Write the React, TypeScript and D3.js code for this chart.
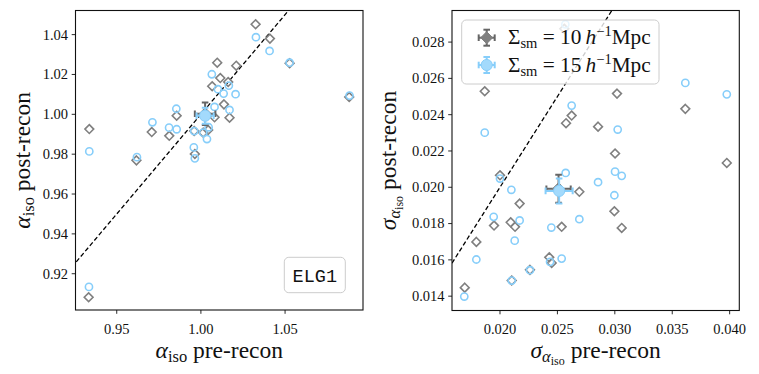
import React from 'react';
import * as d3 from 'd3';

// alpha_iso, Sigma_sm = 10 (pre, post)
const alphaPre10 = [1.0325, 1.041, 1.0097, 1.021, 1.0115, 1.0162, 1.0067, 1.0527, 1.0881, 1.0137, 1.017, 1.0081, 1.0043, 1.0014, 0.9856, 0.9708, 0.9812, 0.9964, 0.9337, 0.9617, 0.9333, 0.996];
const alphaPost10 = [1.0452, 1.038, 1.0259, 1.0244, 1.0182, 1.0162, 1.0141, 1.0256, 1.0087, 1.005, 0.9983, 0.9985, 0.9921, 0.9908, 0.9993, 0.9911, 0.9892, 0.9801, 0.9926, 0.9769, 0.9082, 0.9916];
// alpha_iso, Sigma_sm = 15
const alphaPre15 = [1.0327, 1.0408, 1.0065, 1.0101, 1.0135, 1.0166, 1.0206, 1.0527, 1.0883, 1.0081, 1.017, 0.9854, 0.9712, 0.9811, 0.9856, 0.996, 1.0014, 1.0046, 1.0036, 0.9958, 0.9964, 0.9337, 0.962, 0.9335];
const alphaPost15 = [1.0387, 1.0318, 1.0201, 1.0126, 1.0104, 1.0144, 1.0101, 1.0259, 1.0094, 1.0037, 1.0022, 1.0028, 0.996, 0.9933, 0.9925, 0.9916, 0.9908, 0.9935, 0.9876, 0.9834, 0.9779, 0.9814, 0.9785, 0.9134];
// mean with errors: [x, y, xerr, yerr]
const alphaMean10 = [1.0025, 1.0003, 0.0061, 0.0056];
const alphaMean15 = [1.0025, 0.9993, 0.0051, 0.004];

// sigma_alpha_iso
const sigmaPre10 = [0.01867, 0.03019, 0.03614, 0.02624, 0.02575, 0.02854, 0.03975, 0.03002, 0.02, 0.02691, 0.02171, 0.01948, 0.02093, 0.02131, 0.02537, 0.02996, 0.0306, 0.01794, 0.02429, 0.0245, 0.02261, 0.02102, 0.01693, 0.0256];
const sigmaPost10 = [0.02529, 0.02516, 0.02432, 0.02395, 0.02353, 0.02334, 0.02134, 0.02186, 0.02066, 0.01975, 0.0191, 0.01789, 0.01807, 0.01782, 0.01782, 0.01868, 0.01776, 0.01699, 0.01614, 0.01583, 0.01545, 0.01486, 0.01447, 0.02873];
const sigmaPre15 = [0.02569, 0.03614, 0.03975, 0.02624, 0.01867, 0.03025, 0.02572, 0.03002, 0.0306, 0.02854, 0.02, 0.02099, 0.02996, 0.01945, 0.02171, 0.02691, 0.02447, 0.02128, 0.01794, 0.02537, 0.02436, 0.02261, 0.02102, 0.01689];
const sigmaPost15 = [0.02898, 0.02575, 0.02512, 0.0245, 0.02301, 0.02318, 0.02079, 0.02086, 0.02063, 0.02028, 0.02048, 0.01986, 0.01956, 0.01837, 0.01817, 0.01824, 0.01778, 0.01706, 0.01602, 0.01607, 0.01589, 0.01543, 0.01486, 0.01398];
const sigmaMean10 = [0.0251, 0.01992, 0.00106, 0.00077];
const sigmaMean15 = [0.02515, 0.0198, 0.00118, 0.00069];

const alphaXTicks = [0.95, 1.0, 1.05];
const alphaYTicks = [0.92, 0.94, 0.96, 0.98, 1.0, 1.02, 1.04];
const sigmaXTicks = [0.02, 0.025, 0.03, 0.035, 0.04];
const sigmaYTicks = [0.014, 0.016, 0.018, 0.02, 0.022, 0.024, 0.026, 0.028];

const legendLabels = ['10', '15'];

const GRAY = '#808080';
const GRAY_BAR = '#666666';
const BLUE = '#87cefa';
const SERIF = { fontFamily: "'Liberation Serif'" };
const MONO = { fontFamily: "'Liberation Mono'" };

const diamond = (r) => `M0,${-r}L${r},0L0,${r}L${-r},0Z`;

const ErrMarker = ({ cx, cy, ex, ey, kind }) => {
  const bar = kind === 'gray' ? GRAY_BAR : BLUE;
  const cap = 3.3;
  return (
    <g stroke={bar} strokeWidth={2}>
      <line x1={cx - ex} x2={cx + ex} y1={cy} y2={cy} />
      <line x1={cx} x2={cx} y1={cy - ey} y2={cy + ey} />
      <line x1={cx - ex} x2={cx - ex} y1={cy - cap} y2={cy + cap} />
      <line x1={cx + ex} x2={cx + ex} y1={cy - cap} y2={cy + cap} />
      <line x1={cx - cap} x2={cx + cap} y1={cy - ey} y2={cy - ey} />
      <line x1={cx - cap} x2={cx + cap} y1={cy + ey} y2={cy + ey} />
      {kind === 'gray'
        ? <path d={diamond(6)} transform={`translate(${cx},${cy})`} fill={GRAY} stroke={GRAY} strokeWidth={1} />
        : <circle cx={cx} cy={cy} r={5.6} fill="#a3dafc" stroke={BLUE} strokeWidth={1} />}
    </g>
  );
};

const Panel = ({ id, box, xDomain, yDomain, xTicks, yTicks, digits, pre10, post10, pre15, post15, mean10, mean15, children }) => {
  const [x0, x1, y0, y1] = box;
  const x = d3.scaleLinear().domain(xDomain).range([x0, x1]);
  const y = d3.scaleLinear().domain(yDomain).range([y1, y0]);
  const lo = Math.min(xDomain[0], yDomain[0]);
  const hi = Math.max(xDomain[1], yDomain[1]);
  const diag = d3.line().x(d => x(d)).y(d => y(d))([lo, hi]);
  const m = (arr, kind) => (
    <ErrMarker
      kind={kind}
      cx={x(arr[0])}
      cy={y(arr[1])}
      ex={x(arr[0] + arr[2]) - x(arr[0])}
      ey={y(arr[1]) - y(arr[1] + arr[3])}
    />
  );
  return (
    <g>
      <defs>
        <clipPath id={id}>
          <rect x={x0} y={y0} width={x1 - x0} height={y1 - y0} />
        </clipPath>
      </defs>
      <g clipPath={`url(#${id})`}>
        <path d={diag} stroke="#000" strokeWidth={1.3} strokeDasharray="4.5,2.5" fill="none" />
        {pre10.map((v, i) => (
          <path key={`g${i}`} d={diamond(4.4)} transform={`translate(${x(v)},${y(post10[i])})`}
            fill="none" stroke={GRAY} strokeWidth={1.6} />
        ))}
        {pre15.map((v, i) => (
          <circle key={`b${i}`} cx={x(v)} cy={y(post15[i])} r={3.6}
            fill="none" stroke={BLUE} strokeWidth={1.6} />
        ))}
        {m(mean10, 'gray')}
        {m(mean15, 'blue')}
      </g>
      {children}
      <rect x={x0} y={y0} width={x1 - x0} height={y1 - y0} fill="none" stroke="#111" strokeWidth={1.1} />
      {xTicks.map(t => (
        <g key={`xt${t}`}>
          <line x1={x(t)} x2={x(t)} y1={y1} y2={y1 + 3.8} stroke="#111" strokeWidth={0.9} />
          <text x={x(t)} y={333.5} textAnchor="middle" style={SERIF} fontSize={14.5} fill="#111">
            {t.toFixed(digits[0])}
          </text>
        </g>
      ))}
      {yTicks.map(t => (
        <g key={`yt${t}`}>
          <line x1={x0} x2={x0 - 3.8} y1={y(t)} y2={y(t)} stroke="#111" strokeWidth={0.9} />
          <text x={x0 - 7.5} y={y(t)} dy="0.34em" textAnchor="end" style={SERIF} fontSize={14.5} fill="#111">
            {t.toFixed(digits[1])}
          </text>
        </g>
      ))}
    </g>
  );
};

const Label = ({ transform, sigma, text }) => (
  <text transform={transform} textAnchor="middle" fontSize={23.5} fill="#111" style={{ ...SERIF, whiteSpace: 'pre' }}>
    {sigma ? (
      <>
        <tspan fontStyle="italic">σ</tspan>
        <tspan fontSize={16.5} fontStyle="italic" dy={4}>α</tspan>
        <tspan fontSize={12} dy={3}>iso</tspan>
        <tspan dy={-7}>{` ${text}`}</tspan>
      </>
    ) : (
      <>
        <tspan fontStyle="italic">α</tspan>
        <tspan fontSize={16.5} dy={4}>iso</tspan>
        <tspan dy={-4}>{` ${text}`}</tspan>
      </>
    )}
  </text>
);

const App = () => {
  const LB = [75.5, 363, 10.5, 310];
  const RB = [452, 739.3, 10.5, 310.5];
  return (
    <svg width={759} height={374} style={{ position: 'absolute', left: 0, top: 0, background: '#fff' }}>
      <Panel id="clipL" box={LB} xDomain={[0.9255, 1.0963]} yDomain={[0.9018, 1.0521]}
        xTicks={alphaXTicks} yTicks={alphaYTicks} digits={[2, 2]}
        pre10={alphaPre10} post10={alphaPost10} pre15={alphaPre15} post15={alphaPost15}
        mean10={alphaMean10} mean15={alphaMean15}>
        <rect x={284.3} y={257.3} width={61} height={35.4} rx={4.5} fill="#fff" fillOpacity={0.8} stroke="#cccccc" strokeWidth={1} />
        <text x={314.8} y={281.5} textAnchor="middle" style={MONO} fontSize={18.5} fill="#111">ELG1</text>
      </Panel>
      <Panel id="clipR" box={RB} xDomain={[0.01582, 0.04084]} yDomain={[0.01321, 0.02974]}
        xTicks={sigmaXTicks} yTicks={sigmaYTicks} digits={[3, 3]}
        pre10={sigmaPre10} post10={sigmaPost10} pre15={sigmaPre15} post15={sigmaPost15}
        mean10={sigmaMean10} mean15={sigmaMean15}>
        <rect x={461.7} y={20} width={197.3} height={64} rx={4.5} fill="#fff" fillOpacity={0.8} stroke="#cccccc" strokeWidth={1} />
        {legendLabels.map((lab, i) => {
          const cy = 37.7 + i * 27.3;
          return (
            <g key={lab}>
              <ErrMarker kind={i === 0 ? 'gray' : 'blue'} cx={486.7} cy={cy} ex={8} ey={8} />
              <text x={508} y={cy + 6.5} fontSize={21.3} fill="#111" style={{ ...SERIF, whiteSpace: 'pre' }}>
                <tspan>Σ</tspan>
                <tspan fontSize={14.5} dy={4}>sm</tspan>
                <tspan dy={-4}>{` = ${lab}\u2009`}</tspan>
                <tspan fontStyle="italic">h</tspan>
                <tspan fontSize={14.5} dy={-8}>−1</tspan>
                <tspan dy={8}>Mpc</tspan>
              </text>
            </g>
          );
        })}
      </Panel>
      <Label transform="translate(219.3,358)" text="pre-recon" />
      <Label transform="translate(30,160.3) rotate(-90)" text="post-recon" />
      <Label transform="translate(595.6,358)" sigma text="pre-recon" />
      <Label transform="translate(396,160.5) rotate(-90)" sigma text="post-recon" />
    </svg>
  );
};

export default App;
